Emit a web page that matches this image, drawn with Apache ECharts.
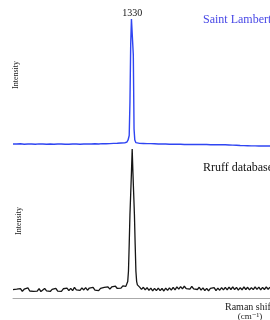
<!DOCTYPE html>
<html>
<head>
<meta charset="utf-8">
<script src="https://cdn.jsdelivr.net/npm/echarts@6/dist/echarts.min.js"></script>
<style>
  html, body { margin: 0; padding: 0; background: #fff; }
  #main { width: 270px; height: 320px; }
</style>
</head>
<body>
<div id="main"></div>
<script>
// Saint Lambert spectrum (top, blue)
var topShift = [1010,1020,1030,1040,1050,1060,1070,1080,1090,1100,1110,1120,1130,1140,1150,1160,1170,1180,1190,1200,
  1210,1220,1230,1240,1250,1260,1270,1280,1290,1300,1310,1316,1319,1322,1324,1326,1328,1331,1333,1335,1337,1340,1345,
  1350,1360,1370,1380,1390,1400,1410,1420,1430,1440,1450,1460,1470,1480,1490,1500,1510,1520,1530,1540,1550,1560,1570,
  1580,1590,1600,1610,1620,1630,1640,1650,1660,1670,1680,1690,1700];
var topIntensity = [2.4,2.3,2.5,2.2,2.4,2.3,2.1,2.4,2.3,2.2,2.3,2.2,2.4,2.3,2.1,2.2,2.4,2.3,2.2,2.3,
  2.4,2.3,2.5,2.4,2.6,2.5,2.6,2.8,2.9,3.1,3.2,3.9,5.5,9,35,80,100,100,72,14,5.5,3.4,2.9,
  2.8,2.7,2.6,2.6,2.5,2.4,2.3,2.3,2.2,2.2,2.1,2.1,2.0,2.0,2.0,2.0,1.9,1.9,1.9,1.8,1.8,1.8,1.7,
  1.7,1.6,1.5,1.4,1.2,1.1,1.0,0.9,0.9,0.8,0.8,0.8,0.8];

// Rruff database spectrum (bottom, black)
var bottomShift = [1010,1015,1020,1025,1030,1035,1040,1045,1050,1055,1060,1065,1070,1075,1080,1085,1090,1095,1100,1105,
  1110,1115,1120,1125,1130,1135,1140,1145,1150,1155,1160,1165,1170,1175,1180,1185,1190,1195,1200,1205,
  1210,1215,1220,1225,1230,1235,1240,1245,1250,1255,1260,1265,1270,1275,1280,1285,1290,1295,1300,1305,1310,
  1313,1316,1318,1320,1322,1324,1326,1328,1330,1332,1334,1336,1338,1340,1342,1344,1347,
  1350,1355,1360,1365,1370,1375,1380,1385,1390,1395,1400,1405,1410,1415,1420,1425,1430,1435,1440,1445,
  1450,1455,1460,1465,1470,1475,1480,1485,1490,1495,1500,1505,1510,1515,1520,1525,1530,1535,1540,1545,
  1550,1555,1560,1565,1570,1575,1580,1585,1590,1595,1600,1605,1610,1615,1620,1625,1630,1635,1640,1645,
  1650,1655,1660,1665,1670,1675,1680,1685,1690,1695,1700];
var bottomIntensity = [5.6,4.3,5.9,4.8,6.3,4.4,5.9,5.0,6.8,4.7,6.0,4.5,5.8,4.6,6.3,4.3,5.5,6.4,4.8,6.1,
  4.4,5.8,5.0,6.5,4.6,5.9,4.5,6.2,4.9,6.6,5.0,6.5,5.0,7.1,5.4,6.7,5.1,6.8,5.4,7.0,
  5.2,6.7,5.6,7.1,5.3,6.6,5.0,6.5,5.5,7.2,5.9,7.5,6.0,7.4,6.2,7.9,6.4,7.7,6.6,8.1,7.1,
  7.8,8.6,11,18,36,56,70,84,100,84,70,56,36,18,11,8.8,7.6,
  7.3,5.8,7.2,5.4,7.0,5.1,6.6,4.8,6.5,5.0,6.7,4.9,6.4,4.7,6.6,5.1,6.8,5.3,7.1,5.5,
  7.5,5.9,7.7,6.1,7.9,6.3,7.6,6.0,7.8,6.1,7.4,5.7,7.2,5.3,6.8,5.0,6.5,4.8,6.4,5.1,
  6.9,4.9,6.6,5.2,7.0,5.4,7.1,5.5,7.3,5.7,7.4,5.6,7.1,5.3,6.9,5.5,7.4,5.7,7.2,5.4,
  7.0,5.6,7.5,5.8,7.3,5.5,7.1,5.7,7.4,5.9,7.2];

var peakLabel = '1330';
var serif = '"Liberation Serif", "DejaVu Serif", serif';

function pairs(xs, ys) {
    var out = [];
    for (var i = 0; i < xs.length; i++) out.push([xs[i], ys[i]]);
    return out;
}

var chart = echarts.init(document.getElementById('main'));
var option = {
    animation: false,
    grid: [
        {left: 13, right: 0, top: 19, height: 128},
        {left: 13, right: 0, top: 149, height: 149}
    ],
    xAxis: [
        {gridIndex: 0, type: 'value', min: 1010, max: 1700, show: false},
        {
            gridIndex: 1, type: 'value', min: 1010, max: 1700,
            axisLine: {show: true, lineStyle: {color: '#aaaaaa', width: 1}},
            axisTick: {show: false},
            axisLabel: {show: false},
            splitLine: {show: false}
        }
    ],
    yAxis: [
        {gridIndex: 0, type: 'value', min: 0, max: 100, show: false},
        {gridIndex: 1, type: 'value', min: 0, max: 100, show: false}
    ],
    series: [
        {
            name: 'Saint Lambert',
            type: 'line',
            xAxisIndex: 0, yAxisIndex: 0,
            data: pairs(topShift, topIntensity),
            showSymbol: false,
            lineStyle: {color: '#2f45f2', width: 1.4},
            markPoint: {
                symbol: 'circle',
                symbolSize: 0,
                data: [{coord: [1330, 100]}],
                label: {
                    show: true, position: 'top', distance: 1,
                    formatter: peakLabel, color: '#111',
                    fontFamily: serif, fontSize: 10
                }
            }
        },
        {
            name: 'Rruff database',
            type: 'line',
            xAxisIndex: 1, yAxisIndex: 1,
            data: pairs(bottomShift, bottomIntensity),
            showSymbol: false,
            lineStyle: {color: '#151515', width: 1.3}
        }
    ],
    graphic: [
        {type: 'text', x: 203, y: 20, style: {text: 'Saint Lambert', fill: '#4747e6', font: '12px ' + serif, verticalAlign: 'middle'}},
        {type: 'text', x: 203, y: 168, style: {text: 'Rruff database', fill: '#111', font: '12px ' + serif, verticalAlign: 'middle'}},
        {type: 'text', x: 16, y: 75, rotation: Math.PI / 2, style: {text: 'Intensity', fill: '#222', font: '8px ' + serif, align: 'center', verticalAlign: 'middle'}},
        {type: 'text', x: 19, y: 221, rotation: Math.PI / 2, style: {text: 'Intensity', fill: '#222', font: '8px ' + serif, align: 'center', verticalAlign: 'middle'}},
        {type: 'text', x: 225, y: 307, style: {text: 'Raman shift', fill: '#222', font: '10px ' + serif, verticalAlign: 'middle'}},
        {type: 'text', x: 250, y: 317, style: {text: '(cm\u207B\u00B9)', fill: '#222', font: '9px ' + serif, align: 'center', verticalAlign: 'middle'}}
    ]
};
chart.setOption(option);
</script>
</body>
</html>
